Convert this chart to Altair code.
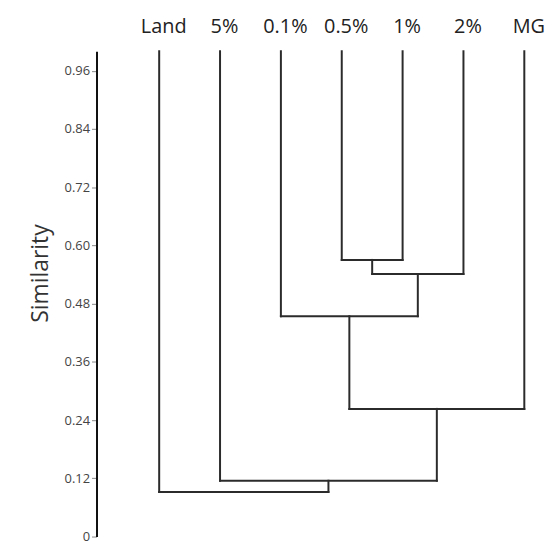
import altair as alt
import pandas as pd

# Leaves (left to right) and agglomeration steps
leaves = ["Land", "5%", "0.1%", "0.5%", "1%", "2%", "MG"]
leaf_top = 1.0
# each merge: (left child id, right child id, similarity); ids >= 7 are earlier merges
merge_left = [3, 7, 2, 9, 1, 0]
merge_right = [4, 5, 8, 6, 10, 11]
merge_sim = [0.570, 0.541, 0.454, 0.263, 0.115, 0.092]
y_ticks = [0, 0.12, 0.24, 0.36, 0.48, 0.60, 0.72, 0.84, 0.96]

# dendrogram layout in data units
pos = {i: float(i) for i in range(len(leaves))}
hgt = {i: leaf_top for i in range(len(leaves))}
segs = []
for k, (a, b, s) in enumerate(zip(merge_left, merge_right, merge_sim)):
    nid = len(leaves) + k
    segs.append(dict(x=pos[a], x2=pos[a], y=hgt[a], y2=s))
    segs.append(dict(x=pos[b], x2=pos[b], y=hgt[b], y2=s))
    segs.append(dict(x=pos[a], x2=pos[b], y=s, y2=s))
    pos[nid] = (pos[a] + pos[b]) / 2
    hgt[nid] = s
df = pd.DataFrame(segs)

label_expr = " : ".join(
    [f"datum.value == {i} ? '{n}'" for i, n in enumerate(leaves)] + ["''"]
)

chart = (
    alt.Chart(df)
    .mark_rule(color="#2b2b2b", strokeWidth=2, strokeCap="square")
    .encode(
        x=alt.X(
            "x:Q",
            scale=alt.Scale(domain=[-1.03, 6.34], nice=False, zero=False),
            axis=alt.Axis(
                orient="top", values=list(range(len(leaves))), labelExpr=label_expr,
                domain=False, ticks=False, grid=False, title=None,
                labelFontSize=20, labelColor="#222", labelFont="Open Sans",
                labelPadding=15, labelFlush=False, labelOverlap=False,
                labelOffset=4,
            ),
        ),
        x2="x2:Q",
        y=alt.Y(
            "y:Q",
            scale=alt.Scale(domain=[0, 1.0], nice=False),
            axis=alt.Axis(
                values=y_ticks,
                labelExpr="datum.value == 0 ? '0' : format(datum.value, '.2f')",
                title="Similarity", titleFontSize=23, titleFontWeight="normal",
                titleColor="#333", titleFont="Open Sans", titlePadding=12,
                titleY=223,
                labelFontSize=13, labelColor="#444", labelFont="Open Sans",
                domainColor="#111", domainWidth=2, tickColor="#888", tickSize=5,
                grid=False, labelPadding=2,
            ),
        ),
        y2="y2:Q",
    )
    .properties(
        width=451, height=488,
        autosize=alt.AutoSizeParams(type="none"),
        padding={"left": 89, "top": 42, "right": 0, "bottom": 6},
    )
    .configure_view(stroke=None)
)

chart.save("out.html", embed_options={"renderer": "svg", "actions": False})
